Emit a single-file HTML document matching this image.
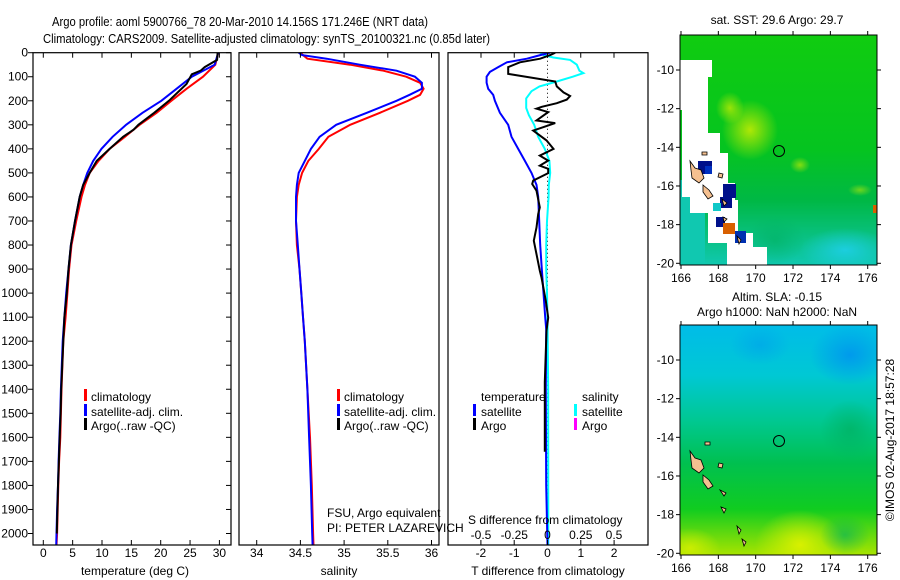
<!DOCTYPE html>
<html><head><meta charset="utf-8"><style>
html,body{margin:0;padding:0;background:#fff;}
svg{display:block;font-family:"Liberation Sans",sans-serif;}
text{font-size:12px;fill:#000;}
</style></head><body>
<svg id="fig" width="900" height="580" viewBox="0 0 900 580" xmlns="http://www.w3.org/2000/svg">
<defs>
<linearGradient id="sstg" x1="0" y1="0" x2="0" y2="1">
<stop offset="0" stop-color="#10cc10"/><stop offset="0.5" stop-color="#05c420"/><stop offset="0.72" stop-color="#00b845"/><stop offset="1" stop-color="#10c8b0"/></linearGradient>
<linearGradient id="slag" x1="0" y1="0" x2="0" y2="1">
<stop offset="0" stop-color="#00bce8"/><stop offset="0.22" stop-color="#00c8d4"/><stop offset="0.42" stop-color="#00c890"/><stop offset="0.6" stop-color="#00c050"/><stop offset="0.8" stop-color="#10cc20"/><stop offset="1" stop-color="#a8e400"/></linearGradient>
<radialGradient id="yel"><stop offset="0" stop-color="#d8f000"/><stop offset="1" stop-color="#d8f000" stop-opacity="0"/></radialGradient>
<radialGradient id="cy"><stop offset="0" stop-color="#20d0f0"/><stop offset="1" stop-color="#20d0f0" stop-opacity="0"/></radialGradient>
<radialGradient id="bl"><stop offset="0" stop-color="#0090f0"/><stop offset="1" stop-color="#0090f0" stop-opacity="0"/></radialGradient>
<radialGradient id="gr"><stop offset="0" stop-color="#00b060"/><stop offset="1" stop-color="#00b060" stop-opacity="0"/></radialGradient>
<clipPath id="c1"><rect x="33" y="53" width="198" height="492"/></clipPath>
<clipPath id="c2"><rect x="239" y="53" width="200" height="492"/></clipPath>
<clipPath id="c3"><rect x="448" y="53" width="200" height="492"/></clipPath>
<clipPath id="cm1"><rect x="680" y="35" width="197" height="230"/></clipPath>
<clipPath id="cm2"><rect x="680" y="325" width="197" height="230"/></clipPath>
</defs>
<text x="52" y="26" textLength="376" lengthAdjust="spacingAndGlyphs" style="font-size:13px">Argo profile: aoml 5900766_78 20-Mar-2010 14.156S 171.246E (NRT data)</text>
<text x="43" y="43" textLength="447" lengthAdjust="spacingAndGlyphs" style="font-size:13px">Climatology: CARS2009. Satellite-adjusted climatology: synTS_20100321.nc (0.85d later)</text>

<g id="p1"></g>
<g id="p2"></g>
<g id="p3"></g>

<g>
<rect x="84" y="389" width="3" height="12" fill="#f00"/><text x="91" y="401">climatology</text>
<rect x="84" y="404" width="3" height="12" fill="#00f"/><text x="91" y="416">satellite-adj. clim.</text>
<rect x="84" y="418" width="3" height="12" fill="#000"/><text x="91" y="430">Argo(..raw -QC)</text>
</g>
<g>
<rect x="337" y="389" width="3" height="12" fill="#f00"/><text x="344" y="401">climatology</text>
<rect x="337" y="404" width="3" height="12" fill="#00f"/><text x="344" y="416">satellite-adj. clim.</text>
<rect x="337" y="418" width="3" height="12" fill="#000"/><text x="344" y="430">Argo(..raw -QC)</text>
</g>
<g>
<text x="481" y="401">temperature</text>
<rect x="473" y="404" width="3" height="12" fill="#00f"/><text x="481" y="416">satellite</text>
<rect x="473" y="418" width="3" height="12" fill="#000"/><text x="481" y="430">Argo</text>
<text x="582" y="401">salinity</text>
<rect x="574" y="404" width="3" height="12" fill="#0ff"/><text x="582" y="416">satellite</text>
<rect x="574" y="418" width="3" height="12" fill="#f0f"/><text x="582" y="430">Argo</text>
</g>
<text x="327" y="517">FSU, Argo equivalent</text>
<text x="327" y="532">PI: PETER LAZAREVICH</text>
<text x="468" y="524">S difference from climatology</text>
<text x="135" y="575" text-anchor="middle">temperature (deg C)</text>
<text x="339" y="575" text-anchor="middle">salinity</text>
<text x="548" y="575" text-anchor="middle">T difference from climatology</text>

<g>
<g clip-path="url(#cm1)">
<rect x="680" y="35" width="197" height="230" fill="url(#sstg)"/>
<ellipse cx="750" cy="130" rx="28" ry="30" fill="url(#yel)" opacity="0.8"/>
<ellipse cx="730" cy="108" rx="14" ry="16" fill="url(#yel)" opacity="0.7"/>
<ellipse cx="800" cy="165" rx="10" ry="8" fill="url(#yel)" opacity="0.6"/>
<ellipse cx="860" cy="190" rx="12" ry="6" fill="url(#yel)" opacity="0.5"/>
<ellipse cx="845" cy="250" rx="45" ry="22" fill="url(#cy)" opacity="0.8"/>
<ellipse cx="775" cy="240" rx="30" ry="25" fill="url(#gr)" opacity="0.6"/>
<rect x="680" y="180" width="25" height="85" fill="#10c8b0"/>
<path d="M680,60 L712,60 L712,77 L708,77 L708,110 L708,133 L720,133 L720,153 L728,153 L728,183 L735,183 L735,200 L738,200 L738,233 L753,233 L753,247 L767,247 L767,265 L727,265 L727,243 L708,243 L708,213 L690,213 L690,197 L682,197 L682,110 L680,110 Z" fill="#fff"/>
<rect x="698" y="161" width="14" height="13" fill="#00108a"/><rect x="705" y="166" width="7" height="8" fill="#0030c0"/>
<rect x="723" y="184" width="13" height="14" fill="#00108a"/>
<rect x="720" y="197" width="12" height="11" fill="#00108a"/>
<rect x="713" y="203" width="8" height="8" fill="#10c8c8"/>
<rect x="716" y="217" width="9" height="10" fill="#00108a"/>
<rect x="723" y="223" width="12" height="11" fill="#d86000"/>
<rect x="735" y="231" width="11" height="12" fill="#0030b0"/>
<rect x="873" y="205" width="4" height="8" fill="#d86000"/>
<g fill="#f5c090" stroke="#000" stroke-width="0.8">
<path d="M690,161 L695,168 L701,170 L704,178 L699,183 L692,178 L691,170 Z"/>
<path d="M703,185 L709,190 L713,196 L708,199 L703,192 Z"/>
<path d="M719,173 L723,174 L722,178 L718,177 Z"/>
<path d="M722,199 L727,203 L724,206 Z"/>
<path d="M723,217 L727,219 L724,222 Z"/>
<path d="M737,236 L741,240 L739,244 Z"/>
<path d="M702,152 L707,152 L707,155 L702,155 Z"/>
</g>
<circle cx="779" cy="151" r="5.5" fill="none" stroke="#000" stroke-width="1"/>
</g>
<rect x="680" y="35" width="197" height="230" fill="none" stroke="#000"/>
</g>
<text x="777" y="24" text-anchor="middle">sat. SST: 29.6 Argo: 29.7</text>

<g>
<g clip-path="url(#cm2)">
<rect x="680" y="325" width="197" height="230" fill="url(#slag)"/>
<ellipse cx="850" cy="355" rx="40" ry="30" fill="url(#bl)" opacity="0.8"/>
<ellipse cx="760" cy="345" rx="30" ry="20" fill="url(#bl)" opacity="0.4"/>
<ellipse cx="850" cy="430" rx="30" ry="30" fill="url(#gr)" opacity="0.7"/>
<ellipse cx="800" cy="545" rx="45" ry="35" fill="url(#yel)"/>
<ellipse cx="690" cy="548" rx="30" ry="20" fill="url(#yel)" opacity="0.8"/>
<ellipse cx="845" cy="535" rx="25" ry="20" fill="url(#gr)" opacity="0.6"/>
<g fill="#f5c090" stroke="#000" stroke-width="0.8">
<path d="M690,451 L695,458 L701,460 L704,468 L699,473 L692,468 L691,460 Z"/>
<path d="M703,475 L709,480 L713,486 L708,489 L703,482 Z"/>
<path d="M719,463 L723,464 L722,468 L718,467 Z"/>
<path d="M720,490 L726,493 L724,496 Z"/>
<path d="M721,507 L726,509 L724,513 Z"/>
<path d="M737,526 L741,530 L739,534 Z"/>
<path d="M742,539 L746,542 L744,546 Z"/>
<path d="M705,442 L710,442 L710,445 L705,445 Z"/>
</g>
<circle cx="779" cy="441" r="5.5" fill="none" stroke="#000" stroke-width="1"/>
</g>
<rect x="680" y="325" width="197" height="230" fill="none" stroke="#000"/>
</g>
<text x="777" y="301" text-anchor="middle">Altim. SLA: -0.15</text>
<text x="777" y="316" text-anchor="middle">Argo h1000: NaN h2000: NaN</text>
<text transform="translate(894,440) rotate(-90)" text-anchor="middle">©IMOS 02-Aug-2017 18:57:28</text>
<g id="mapaxes"></g>
</svg>
<script>
var tempDepth = [0,50,100,150,200,250,300,350,400,450,500,550,600,700,800,900,1000,1100,1200,1400,1500,1600,1700,1800,1900,2000,2050];
var tempClim  = [29.8,29.3,27.2,24.4,21.8,19.3,16.4,13.9,11.3,9.4,7.9,7.1,6.5,5.6,4.8,4.4,4.1,3.8,3.4,3.1,3.0,2.9,2.7,2.55,2.45,2.35,2.25];
var tempSat   = [29.8,29.2,25.3,22.7,20.1,16.9,14.1,11.8,9.9,8.5,7.5,6.8,6.2,5.4,4.7,4.3,3.9,3.6,3.3,3.0,2.9,2.75,2.6,2.5,2.35,2.25,2.2];
var argoDepth = [0,30,60,75,90,130,200,250,300,320,350,400,450,500,550,600,700,800,900,1000,1100,1200,1400,1500,1600,1800,2000];
var argoTemp  = [29.7,29.6,27.5,26.8,25.3,24.4,21.4,18.9,16.2,15.4,13.6,11.3,9.1,7.9,6.8,6.2,5.4,4.7,4.3,4.0,3.6,3.4,3.05,2.95,2.8,2.5,2.3];
var salDepth  = [0,10,25,50,75,100,125,150,175,200,250,300,350,400,450,500,550,600,700,800,900,1000,1100,1200,1400,1600,1800,2000,2050];
var salClim   = [34.50,34.53,34.58,35.07,35.45,35.71,35.87,35.91,35.87,35.73,35.41,35.07,34.82,34.71,34.59,34.52,34.48,34.46,34.45,34.46,34.49,34.51,34.53,34.55,34.58,34.61,34.63,34.645,34.65];
var salSat    = [34.48,34.52,34.80,35.18,35.60,35.81,35.89,35.89,35.75,35.60,35.26,34.91,34.72,34.62,34.55,34.48,34.46,34.45,34.45,34.47,34.49,34.51,34.53,34.55,34.58,34.60,34.62,34.635,34.64];
var dtSatDepth = [0,10,25,40,60,80,100,125,150,175,200,250,300,350,400,450,500,550,600,700,800,900,1000,1100,1150,1400,1800,2050];
var dtSat      = [0.08,-0.22,-0.62,-1.22,-1.48,-1.73,-1.83,-1.83,-1.78,-1.63,-1.58,-1.43,-1.18,-1.08,-0.88,-0.68,-0.48,-0.33,-0.28,-0.25,-0.22,-0.17,-0.12,-0.07,-0.04,-0.05,-0.04,0.0];
var dtArgoDepth = [0,10,25,40,60,88,120,140,165,180,195,210,225,233,247,282,293,324,365,400,428,449,470,483,501,532,546,574,643,671,727,782,838,907,935,1032,1102,1157,1370,1660];
var dtArgo      = [0.23,0.08,-0.22,-0.83,-1.18,-1.18,0.23,0.28,0.48,0.68,0.58,0.28,-0.17,-0.33,0.02,-0.33,0.23,-0.43,-0.03,0.18,-0.23,0.02,-0.23,0.02,0.02,-0.43,-0.46,-0.33,-0.23,-0.28,-0.33,-0.41,-0.33,-0.23,-0.18,-0.05,0.02,-0.03,-0.08,-0.08];
var dsSatDepth = [0,10,20,30,50,75,85,100,120,140,160,190,230,260,300,350,400,450,500,550,600,700,800,900,1000,1100,1400,2050];
var dsSat      = [-0.056,-0.03,0.044,0.17,0.22,0.24,0.27,0.19,0.07,-0.06,-0.12,-0.16,-0.16,-0.14,-0.10,-0.07,-0.02,0.014,0.02,0.01,0.008,-0.004,-0.01,-0.01,-0.004,0.0,0.005,0.006];
var depthTicks = [0,100,200,300,400,500,600,700,800,900,1000,1100,1200,1300,1400,1500,1600,1700,1800,1900,2000];
var tempTicks = [0,5,10,15,20,25,30];
var salTicks = [34,34.5,35,35.5,36];
var salTickLabels = ["34","34.5","35","35.5","36"];
var tdTicks = [-2,-1,0,1,2];
var sdTicks = [-0.5,-0.25,0,0.25,0.5];
var sdTickLabels = ["-0.5","-0.25","0","0.25","0.5"];
var lonTicks = [166,168,170,172,174,176];
var latTicks = [-10,-12,-14,-16,-18,-20];

var NS = "http://www.w3.org/2000/svg";
var fig = document.getElementById('fig');
function el(tag, attrs, parent){ var e=document.createElementNS(NS,tag); for(var k in attrs) e.setAttribute(k,attrs[k]); (parent||fig).appendChild(e); return e; }
var Y0=52.7, YS=0.2404;
function yD(d){ return Y0 + d*YS; }
function xT(t){ return 43.3 + t*5.87; }
function xS(s){ return 256.7 + (s-34)*87.4; }
function xTD(t){ return 547.5 + t*33.3; }
function xSD(s){ return 547.5 + s*133; }
function lon(l){ return 681 + (l-166)*18.67; }
function latTop(l){ return 70 + (-10-l)*19.33; }
function latBot(l){ return 360 + (-10-l)*19.33; }
function pts(xs, ds, fx){ var a=[]; for(var i=0;i<xs.length;i++) a.push(fx(xs[i]).toFixed(1)+','+yD(ds[i]).toFixed(1)); return a.join(' '); }
function frame(g, x0, x1){
  el('rect',{x:x0,y:Y0,width:x1-x0,height:545-Y0,fill:'none',stroke:'#000','stroke-width':1.2},g);
}
var p1=document.getElementById('p1');
var l1=el('polyline',{points:pts(tempClim,tempDepth,xT),fill:'none',stroke:'#f00','stroke-width':2,'clip-path':'url(#c1)'},p1);


var l2=el('polyline',{points:pts(tempSat,tempDepth,xT),fill:'none',stroke:'#00f','stroke-width':2,'clip-path':'url(#c1)'},p1);


var l3=el('polyline',{points:pts(argoTemp,argoDepth,xT),fill:'none',stroke:'#000','stroke-width':2,'clip-path':'url(#c1)'},p1);


frame(p1,33,231);
depthTicks.forEach(function(d){
  var y=yD(d);
  el('line',{x1:28,y1:y,x2:33,y2:y,stroke:'#000'},p1);
  el('line',{x1:226,y1:y,x2:231,y2:y,stroke:'#000'},p1);
  var t=el('text',{x:28,y:y+4,'text-anchor':'end'},p1); t.textContent=d;
  
  
});
tempTicks.forEach(function(v){
  var x=xT(v);
  el('line',{x1:x,y1:Y0,x2:x,y2:Y0+5,stroke:'#000'},p1);
  el('line',{x1:x,y1:545,x2:x,y2:540,stroke:'#000'},p1);
  var t=el('text',{x:x,y:557,'text-anchor':'middle'},p1); t.textContent=v;
  
  
});
var p2=document.getElementById('p2');
var s1=el('polyline',{points:pts(salClim,salDepth,xS),fill:'none',stroke:'#f00','stroke-width':2,'clip-path':'url(#c2)'},p2);


var s2=el('polyline',{points:pts(salSat,salDepth,xS),fill:'none',stroke:'#00f','stroke-width':2,'clip-path':'url(#c2)'},p2);


frame(p2,239,439);
salTicks.forEach(function(v,i){
  var x=xS(v);
  el('line',{x1:x,y1:Y0,x2:x,y2:Y0+5,stroke:'#000'},p2);
  el('line',{x1:x,y1:545,x2:x,y2:540,stroke:'#000'},p2);
  var t=el('text',{x:x,y:557,'text-anchor':'middle'},p2); t.textContent=salTickLabels[i];
  
  
});
var p3=document.getElementById('p3');
el('line',{x1:547.5,y1:Y0,x2:547.5,y2:545,stroke:'#000','stroke-dasharray':'1,3'},p3);
var d1=el('polyline',{points:pts(dsSat,dsSatDepth,xSD),fill:'none',stroke:'#0ff','stroke-width':2,'clip-path':'url(#c3)'},p3);


var d2=el('polyline',{points:pts(dtSat,dtSatDepth,xTD),fill:'none',stroke:'#00f','stroke-width':2,'clip-path':'url(#c3)'},p3);


var d3=el('polyline',{points:pts(dtArgo,dtArgoDepth,xTD),fill:'none',stroke:'#000','stroke-width':2,'clip-path':'url(#c3)'},p3);


frame(p3,448,648);
tdTicks.forEach(function(v){
  var x=xTD(v);
  el('line',{x1:x,y1:545,x2:x,y2:540,stroke:'#000'},p3);
  var t=el('text',{x:x,y:557,'text-anchor':'middle'},p3); t.textContent=v;
  
  
});
sdTicks.forEach(function(v,i){
  var x=xSD(v);
  el('line',{x1:x,y1:Y0,x2:x,y2:Y0+5,stroke:'#000'},p3);
  var t=el('text',{x:x,y:539,'text-anchor':'middle'},p3); t.textContent=sdTickLabels[i];
  
  
});
var ma=document.getElementById('mapaxes');
[[35,265,latTop],[325,555,latBot]].forEach(function(m){
  lonTicks.forEach(function(v){
    var x=lon(v);
    el('line',{x1:x,y1:m[0]-4,x2:x,y2:m[0],stroke:'#000'},ma);
    el('line',{x1:x,y1:m[1],x2:x,y2:m[1]+4,stroke:'#000'},ma);
    var t=el('text',{x:x,y:m[1]+17,'text-anchor':'middle'},ma); t.textContent=v;
    
    
  });
  latTicks.forEach(function(v){
    var y=m[2](v);
    el('line',{x1:676,y1:y,x2:680,y2:y,stroke:'#000'},ma);
    el('line',{x1:877,y1:y,x2:881,y2:y,stroke:'#000'},ma);
    var t=el('text',{x:674,y:y+4,'text-anchor':'end'},ma); t.textContent=v;
    
    
  });
});
</script>
</body></html>
